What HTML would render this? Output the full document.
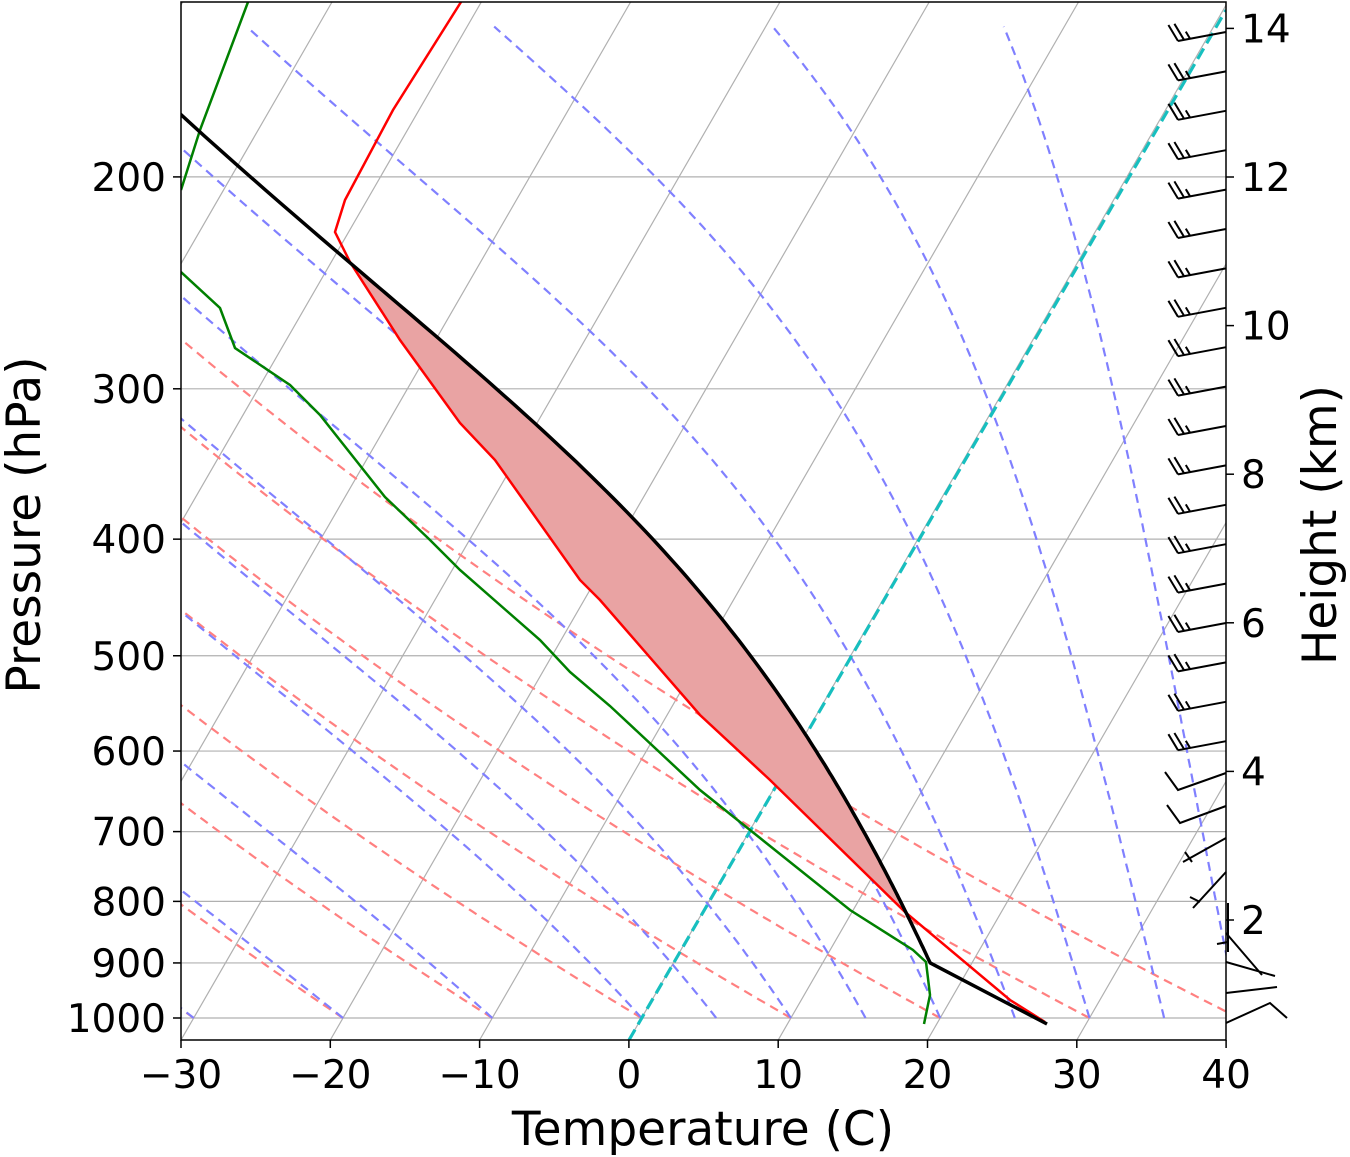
<!DOCTYPE html>
<html><head><meta charset="utf-8">
<style>
html,body{margin:0;padding:0;background:#fff;}
svg{display:block;}
text{font-family:"DejaVu Sans","Liberation Sans",sans-serif;fill:#000;}
</style></head>
<body>
<svg id="s" width="1350" height="1157" xmlns="http://www.w3.org/2000/svg">
<defs><clipPath id="c"><rect x="181" y="2" width="1045" height="1038"/></clipPath></defs>
<g id="g" clip-path="url(#c)"></g>
<g id="o"></g>
</svg>
<script>
var NS="http://www.w3.org/2000/svg";
var g=document.getElementById('g'),o=document.getElementById('o');
function el(p,t,a,txt){var e=document.createElementNS(NS,t);for(var k in a)e.setAttribute(k,a[k]);if(txt!==undefined)e.textContent=txt;p.appendChild(e);return e;}
function Y(p){return 1018-522.6*Math.log(1000/p);}
function X(T,p){return 181+(T+30)*14.93+(1040-Y(p))*0.577;}
function pl(pts,a){return el(g,'polyline',Object.assign({points:pts.map(function(q){return q[0].toFixed(1)+','+q[1].toFixed(1)}).join(' '),fill:'none'},a));}
[200,300,400,500,600,700,800,900,1000].forEach(function(p){el(g,'line',{x1:181,x2:1226,y1:Y(p),y2:Y(p),stroke:'#b0b0b0','stroke-width':1.2});});
for(var T=-110;T<=40;T+=10){el(g,'line',{x1:X(T,1043),y1:1040,x2:X(T,1043)+1038*0.577,y2:2,stroke:'#b0b0b0','stroke-width':1.2});}
for(var t0=-30;t0<=40;t0+=10){var th=t0+273.15,pts=[];for(var p=1000;p>=150;p-=5){var Tk=th*Math.pow(p/1000,0.2857);pts.push([X(Tk-273.15,p),Y(p)]);}pl(pts,{stroke:'#ff8080','stroke-width':2.2,'stroke-dasharray':'9,6'});}
var Rd=287.04,cp=1005.7,Lv=2.501e6,eps=0.622;
function rs(Tk,p){var tc=Tk-273.15;var es=6.112*Math.exp(17.67*tc/(tc+243.5));return eps*es/(p-es);}
function moist(t0,p0,pend){var Tk=t0+273.15,p=p0,pts=[[X(t0,p),Y(p)]];while(p>pend){var r=rs(Tk,p);var d=(Rd*Tk+Lv*r)/(cp+Lv*Lv*r*eps/(Rd*Tk*Tk));Tk-=d/p;p-=1;if(p%5==0)pts.push([X(Tk-273.15,p),Y(p)]);}return pts;}
[-30,-20,-10,0,5,10,15,20,25,30,35,40].forEach(function(t0){pl(moist(t0,1000,150),{stroke:'#8080ff','stroke-width':2.2,'stroke-dasharray':'9,6'});});
el(g,'line',{x1:629,y1:1040,x2:1226,y2:10,stroke:'#17bfbf','stroke-width':3.2,'stroke-dasharray':'12,6'});
var red=[[1045,1022],[1010,1000],[905,912],[770,780],[700,715],[600,600],[580,580],[495,460],[460,423],[400,340],[350,262],[335,232],[345,200],[393,110],[461,2]];
var mp=moist(17.2,900,130);
var blk=[[1047,1024]].concat(mp);
var up=mp.filter(function(q){return q[1]<=911&&q[1]>=262;});
var fillPts=up.concat(red.slice(2,11).reverse());
pl(fillPts,{fill:'#e9a3a3',stroke:'none'}).setAttribute('fill','#e9a3a3');
var grn=[[924,1024],[930,995],[926,962],[913,950],[850,910],[750,830],[700,790],[610,706],[570,672],[540,640],[460,570],[430,540],[385,497],[320,415],[290,385],[235,348],[220,308],[181,272]];
pl(grn,{stroke:'#008000','stroke-width':2.5});
pl([[181,190],[200,130],[248,2]],{stroke:'#008000','stroke-width':2.5});
pl(red,{stroke:'#ff0000','stroke-width':2.5});
pl(blk,{stroke:'#000','stroke-width':3.5,'stroke-linejoin':'round'});
el(o,'rect',{x:181,y:2,width:1045,height:1038,fill:'none',stroke:'#000','stroke-width':1.5});
for(var i=0;i<19;i++){var y=32+i*39.4;
 el(o,'polyline',{points:'1226,'+y+' 1178,'+(y+9),fill:'none',stroke:'#000','stroke-width':2});
 for(var k=0;k<3;k++){var bx=1178+k*6,by=y+9-k*1.2,L=(k==2?7:16);el(o,'line',{x1:bx,y1:by,x2:bx-L*0.6,y2:by-L,stroke:'#000','stroke-width':2});}}
[[773,1178,790],[806,1180,823]].forEach(function(b){el(o,'polyline',{points:'1226,'+b[0]+' '+b[1]+','+b[2]+' '+(b[1]-13)+','+(b[2]-18),fill:'none',stroke:'#000','stroke-width':2});});
el(o,'polyline',{points:'1226,838 1183,862',fill:'none',stroke:'#000','stroke-width':2});
el(o,'line',{x1:1185,y1:852,x2:1192,y2:862,stroke:'#000','stroke-width':2});
el(o,'polyline',{points:'1226,872 1193,908',fill:'none',stroke:'#000','stroke-width':2});
el(o,'line',{x1:1190,y1:897,x2:1200,y2:902,stroke:'#000','stroke-width':2});
el(o,'line',{x1:1228,y1:903,x2:1228,y2:952,stroke:'#000','stroke-width':2});
el(o,'line',{x1:1217,y1:944,x2:1228,y2:942,stroke:'#000','stroke-width':2});
el(o,'polyline',{points:'1226,933 1262,975',fill:'none',stroke:'#000','stroke-width':2});
el(o,'polyline',{points:'1226,962 1275,976',fill:'none',stroke:'#000','stroke-width':2});
el(o,'polyline',{points:'1226,993 1277,987',fill:'none',stroke:'#000','stroke-width':2});
el(o,'polyline',{points:'1226,1023 1270,1003 1287,1018',fill:'none',stroke:'#000','stroke-width':2});
[200,300,400,500,600,700,800,900,1000].forEach(function(p){var y=Y(p);el(o,'line',{x1:173,x2:181,y1:y,y2:y,stroke:'#000','stroke-width':1.5});el(o,'text',{x:166,y:y+14,'text-anchor':'end','font-size':39},String(p));});
for(var T=-30;T<=40;T+=10){var x=181+(T+30)*14.93;el(o,'line',{x1:x,x2:x,y1:1040,y2:1048,stroke:'#000','stroke-width':1.5});el(o,'text',{x:x,y:1088,'text-anchor':'middle','font-size':39},(T<0?'\u2212':'')+Math.abs(T));}
for(var h=2;h<=14;h+=2){var y=920-(h-2)*74.3;el(o,'line',{x1:1226,x2:1234,y1:y,y2:y,stroke:'#000','stroke-width':1.5});el(o,'text',{x:1241,y:y+14,'font-size':39},String(h));}
el(o,'text',{x:703,y:1145,'text-anchor':'middle','font-size':47},'Temperature (C)');
el(o,'text',{x:0,y:0,'text-anchor':'middle','font-size':47,transform:'translate(40,525) rotate(-90)'},'Pressure (hPa)');
el(o,'text',{x:0,y:0,'text-anchor':'middle','font-size':47,transform:'translate(1336,525) rotate(-90)'},'Height (km)');
</script>
</body></html>
